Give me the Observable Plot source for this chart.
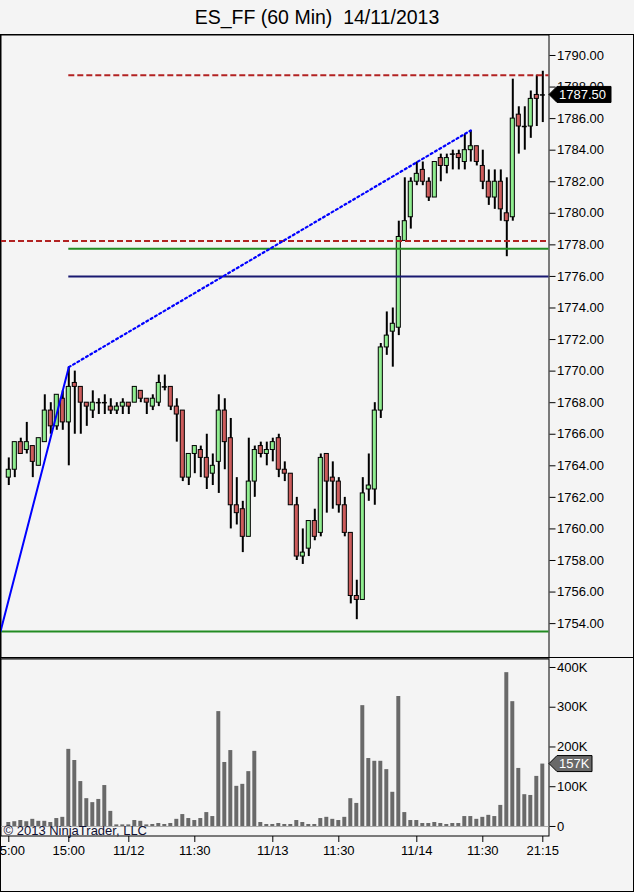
<!DOCTYPE html>
<html>
<head>
<meta charset="utf-8">
<script src="https://cdn.jsdelivr.net/npm/d3@7"></script>
<script src="https://cdn.jsdelivr.net/npm/@observablehq/plot@0.6"></script>
<style>
html, body { margin: 0; padding: 0; background: #f4f4f4; }
body { width: 634px; height: 892px; position: relative; overflow: hidden; font-family: Arial, "Liberation Sans", sans-serif; }
#title { position: absolute; left: 0; top: 0; width: 634px; height: 34px; line-height: 34px; text-align: center; font-size: 19.5px; white-space: pre; color: #000; }
#price { position: absolute; left: 0; top: 34px; }
#volume { position: absolute; left: 0; top: 658px; }
#outer { position: absolute; left: 0; top: 34px; width: 634px; height: 858px; border: 1px solid #000; box-sizing: border-box; pointer-events: none; }
#sep { position: absolute; left: 0; top: 657px; width: 634px; height: 1px; background: #000; }
</style>
</head>
<body>
<div id="title">ES_FF (60 Min)  14/11/2013</div>
<div id="price"></div>
<div id="volume"></div>
<div id="sep"></div>
<div id="outer"></div>
<script>
// ---- data (hourly bars, index 1..90) ----
const bars = d3.range(1, 91);
const opens = [
  1763.25,1763.75,1765.5,1765,1765.25,1764,1765.5,1767.5,1766.5,1768.25,
  1766.75,1769.25,1769,1768,1767.5,1768,1768,1767.75,1767.5,1767.75,
  1768,1768,1768.75,1768.25,1767.75,1768,1769,1769,1767.75,1767.5,
  1763.25,1764.75,1765,1764.5,1763.5,1764.25,1767.5,1765.75,1761.5,1761.25,
  1759.5,1763,1765.25,1764.75,1765,1765.75,1763.75,1763.5,1761.5,1758.25,
  1758.75,1760.5,1759.75,1764.75,1763.25,1763,1761.5,1759.75,1755.75,1755.5,
  1762.5,1762.5,1767.5,1771.5,1772.5,1772.75,1778.25,1779.75,1782,1782.75,
  1782,1781,1783.5,1783,1783.75,1783.75,1783.25,1784,1784.25,1783,
  1782,1781,1782,1780,1779.75,1786.25,1785.5,1785.5,1787.5,1787.5
];
const highs = [
  1764.5,1765.5,1765.75,1766.75,1765.25,1765.75,1768.5,1768,1768.5,1768.75,
  1770.25,1770,1769,1768,1768.75,1768.25,1768.5,1768.25,1768,1768.25,
  1768,1769,1768.75,1768.25,1768.5,1769.75,1769.75,1769,1768.25,1767.5,
  1764.75,1765.25,1765.25,1766,1764.75,1768.5,1768.25,1767,1763.25,1761.75,
  1765.75,1765.25,1765.5,1765.5,1765.75,1766,1764.25,1763.5,1762,1760,
  1760.5,1761.25,1764.75,1764.75,1764.25,1763.25,1762,1759.75,1756.75,1763.25,
  1764.75,1768,1771.75,1773.75,1774,1779.5,1782.25,1782.25,1783.25,1783.25,
  1782.25,1783.25,1783.75,1783.75,1784,1784,1785,1785.25,1784.25,1784,
  1782.75,1782.75,1782.75,1782.25,1788.5,1786.75,1786.75,1787.75,1788.75,1789
];
const lows = [
  1762.75,1763.25,1764.75,1764.75,1763.25,1764,1765.5,1766,1766.25,1766.25,
  1764,1766,1766,1766.5,1767,1767.25,1767.25,1767.25,1767.25,1767.25,
  1767.25,1768,1768,1767.25,1767.5,1767.75,1768.75,1767.5,1765.5,1763,
  1762.75,1763.5,1763.25,1762.5,1762.75,1762.25,1763.75,1760,1760.25,1758.5,
  1759.5,1762,1764.5,1764,1764.25,1763.25,1763,1761.5,1758,1757.75,
  1758.25,1759.25,1759.5,1761,1761.25,1761,1759.5,1755.25,1754.25,1755.5,
  1761.75,1761.5,1767,1771,1770.25,1772.25,1778.25,1779,1781.75,1781.75,
  1780.75,1781,1782,1782.5,1782.75,1782.75,1782.75,1783.25,1783,1781.5,
  1780.5,1780.25,1779.5,1777.25,1779.5,1783.75,1784,1784.75,1785.5,1785.75
];
const closes = [
  1763.75,1765.5,1764.75,1765.5,1764.25,1765.75,1767.5,1766.5,1768.5,1766.75,
  1769,1769,1768,1767.75,1768,1768,1768,1767.5,1767.75,1768,
  1767.75,1769,1768.25,1768,1768.25,1769.25,1769,1767.75,1767.25,1763.25,
  1764.75,1765.25,1764.5,1763.25,1764,1767.5,1765.5,1761.5,1761,1759.5,
  1763,1765,1764.75,1765,1765.5,1763.75,1763.5,1761.5,1758.25,1758.5,
  1760.5,1759.5,1764.5,1763,1763,1761.5,1759.75,1755.75,1755.5,1762.25,
  1762.75,1767.5,1771.5,1772.25,1773,1778.5,1779.5,1782,1782.5,1782,
  1781,1783.25,1783,1783.5,1783.75,1783.5,1784,1784.25,1783.25,1782,
  1781,1782,1780.25,1779.5,1786,1785.5,1785.5,1787.25,1787.25,1787.5
];
// volume in thousands of contracts
const volumes = [
  10,12,15,12,18,13,13,10,20,23,
  194,166,113,70,60,68,103,38,4,4,
  4,15,13,4,5,7.5,5,7.5,18,30,
  20,15,20,35,25,289,161,191,101,106,
  138,189,10,5,5,7.5,5,5,15,10,
  5,5,20,23,18,15,23,70,58,304,
  171,164,164,143,86,327,35,15,15,7.5,
  7.5,10,7.5,5,7.5,7.5,25,25,18,23,
  28,25,53,387,314,146,80,78,126,157
];
const priceTicks = d3.range(1754, 1791, 2);
const volumeTicks = [0, 100, 200, 300, 400];
const timeTickBars = [1, 11, 21, 32, 45, 56, 69, 80, 90];
const timeTickLabels = ["05:00", "15:00", "11/12", "11:30", "11/13", "11:30", "11/14", "11:30", "21:15"];

// drawn levels: price, first bar (null = from left edge)
const redDashedLevels = [1788.75, 1778.25];
const redDashedFrom = [11, null];
const greenLevels = [1777.75, 1753.5];
const greenFrom = [11, null];
const navyLevels = [1776];
const navyFrom = [11];
// trend line anchors: bar (null = left edge), price
const trendBars = [null, 11, 78];
const trendPrices = [1753.5, 1770.25, 1785.25];

// ---- scales / layout config ----
const W = 634, MR = 85.5;
const xDomain = [-0.383, 91.033];
const priceDomain = [1751.79, 1791.33];
const volumeDomain = [-25.2, 422.6];
const font = "Arial, 'Liberation Sans', sans-serif";
const leftEdge = b => (b === null ? xDomain[0] : b);
const rightEdge = () => xDomain[1];

const rows = bars.map((b, k) => ({ i: b, o: opens[k], h: highs[k], l: lows[k], c: closes[k], v: volumes[k] }));
const ups = rows.filter(d => d.c > d.o);
const downs = rows.filter(d => d.c < d.o);
const dojis = rows.filter(d => d.c === d.o);
const mkLevels = (ps, fs) => ps.map((p, k) => ({ p, from: leftEdge(fs[k]) }));
const redRows = mkLevels(redDashedLevels, redDashedFrom);
const greenRows = mkLevels(greenLevels, greenFrom);
const navyRows = mkLevels(navyLevels, navyFrom);
const trend = trendBars.map((b, k) => ({ i: leftEdge(b), p: trendPrices[k] }));
const labelMap = new Map(timeTickBars.map((b, k) => [b, timeTickLabels[k]]));
const halfBody = 0.34;

const style = { fontFamily: font, fontSize: "13px", color: "#000", background: "transparent", overflow: "visible" };

const pricePlot = Plot.plot({
  width: W, height: 624,
  marginLeft: 0, marginRight: MR, marginTop: 0, marginBottom: 0,
  style,
  x: { domain: xDomain, axis: null },
  y: { domain: priceDomain, axis: null },
  marks: [
    Plot.frame({ stroke: "#000", insetLeft: 0.5, insetTop: 0.5, insetBottom: 0.5 }),
    Plot.ruleX(rows, { x: "i", y1: "l", y2: "h", stroke: "#000", strokeWidth: 2 }),
    Plot.rect(ups, { x1: d => d.i - halfBody, x2: d => d.i + halfBody, y1: "o", y2: "c", fill: "#90ee90", stroke: "#000", strokeWidth: 1 }),
    Plot.rect(downs, { x1: d => d.i - halfBody, x2: d => d.i + halfBody, y1: "o", y2: "c", fill: "#cd5c5c", stroke: "#000", strokeWidth: 1 }),
    Plot.ruleY(dojis, { y: "c", x1: d => d.i - 0.42, x2: d => d.i + 0.42, stroke: "#000", strokeWidth: 1.5 }),
    Plot.ruleY(redRows, { y: "p", x1: "from", x2: rightEdge, stroke: "#b22222", strokeWidth: 2, strokeDasharray: "6,3" }),
    Plot.ruleY(greenRows, { y: "p", x1: "from", x2: rightEdge, stroke: "#228b22", strokeWidth: 2 }),
    Plot.ruleY(navyRows, { y: "p", x1: "from", x2: rightEdge, stroke: "#191970", strokeWidth: 2 }),
    Plot.line(trend.slice(0, 2), { x: "i", y: "p", stroke: "#0000ff", strokeWidth: 2 }),
    Plot.line(trend.slice(1, 3), { x: "i", y: "p", stroke: "#0000ff", strokeWidth: 2.2, strokeDasharray: "2,3" }),
    Plot.axisY(priceTicks, { anchor: "right", tickSize: 6, tickPadding: 2, tickFormat: d => d.toFixed(2), label: null, fontSize: 13 })
  ]
});
document.getElementById("price").appendChild(pricePlot);

const volumePlot = Plot.plot({
  width: W, height: 233,
  marginLeft: 0, marginRight: MR, marginTop: 0, marginBottom: 55,
  style,
  x: { domain: xDomain, axis: null },
  y: { domain: volumeDomain, axis: null },
  marks: [
    Plot.frame({ stroke: "#000", insetLeft: 0.5, insetTop: 0.5, insetBottom: 0.5 }),
    Plot.ruleY([0], { stroke: "#a8a8a8", strokeWidth: 1 }),
    Plot.rect(rows, { x1: d => d.i - 0.33, x2: d => d.i + 0.33, y1: () => 0, y2: "v", fill: "#696969" }),
    Plot.text(["© 2013 NinjaTrader, LLC"], { frameAnchor: "bottom-left", dx: 3, dy: -2, textAnchor: "start", lineAnchor: "bottom", fontSize: 13, fill: "#111133" }),
    Plot.axisY(volumeTicks, { anchor: "right", tickSize: 6, tickPadding: 2, tickFormat: d => (d === 0 ? "0" : d + "K"), label: null, fontSize: 13 }),
    Plot.axisX(timeTickBars, { anchor: "bottom", tickSize: 6, tickPadding: 3, tickFormat: d => labelMap.get(d), label: null, fontSize: 13 })
  ]
});
document.getElementById("volume").appendChild(volumePlot);

// ---- last-value tags on the right axes ----
function tag(svgEl, yScale, value, text, fill, w) {
  const ax = W - MR;
  const y = yScale.apply(value);
  const g = d3.select(svgEl).append("g");
  g.append("path")
    .attr("d", `M${ax + 0.5},${y} L${ax + 8.5},${y - 8} L${ax + w},${y - 8} L${ax + w},${y + 8} L${ax + 8.5},${y + 8} Z`)
    .attr("fill", fill).attr("stroke", "#000").attr("stroke-width", 1);
  g.append("text")
    .attr("x", ax + 10.5).attr("y", y).attr("dy", "0.36em")
    .attr("text-anchor", "start")
    .attr("fill", "#fff").attr("font-size", 13).attr("font-family", font)
    .text(text);
}
const lastClose = closes[closes.length - 1];
const lastVol = volumes[volumes.length - 1];
tag(pricePlot, pricePlot.scale("y"), lastClose, lastClose.toFixed(2), "#000", 62.5);
tag(volumePlot, volumePlot.scale("y"), lastVol, Math.round(lastVol) + "K", "#696969", 43.5);
</script>
</body>
</html>
